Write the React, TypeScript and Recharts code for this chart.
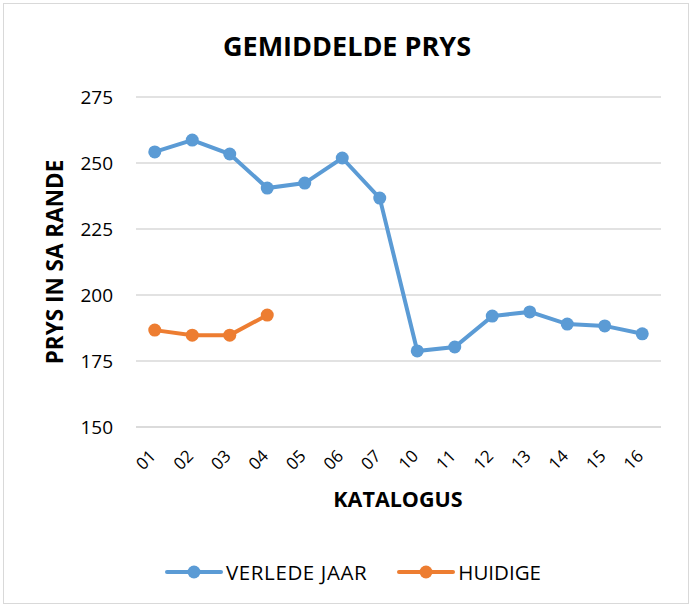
import React from 'react';
import {
  LineChart,
  Line,
  XAxis,
  YAxis,
  CartesianGrid,
  Legend
} from 'recharts';

const catalogues = ['01', '02', '03', '04', '05', '06', '07', '10', '11', '12', '13', '14', '15', '16'];
const lastYear = [254.2, 258.7, 253.4, 240.5, 242.4, 251.9, 236.7, 178.8, 180.3, 192.0, 193.6, 189.0, 188.3, 185.3];
const current = [186.7, 184.8, 184.8, 192.4];
const yTicks = [150, 175, 200, 225, 250, 275];

const BLUE = '#5B9BD5';
const ORANGE = '#ED7D31';
const FONT = '"Open Sans", sans-serif';

const data = catalogues.map((c, i) => ({
  name: c,
  lastYear: lastYear[i],
  current: i < current.length ? current[i] : null
}));

const XTick: React.FC<any> = ({ x, y, payload }) => (
  <g transform={`translate(${x - 2},${y + 18})`}>
    <text
      x={0}
      y={0}
      dy="0.35em"
      textAnchor="end"
      transform="rotate(-45)"
      fontSize={17}
      fill="#000"
      fontFamily={FONT}>
      {payload.value}
    </text>
  </g>
);

const LegendContent: React.FC<any> = () => {
  const items = [
    { label: 'VERLEDE JAAR', color: BLUE },
    { label: 'HUIDIGE', color: ORANGE }
  ];
  return (
    <div
      style={{
        display: 'flex',
        justifyContent: 'center',
        alignItems: 'center',
        height: 30,
        paddingLeft: 45,
        fontFamily: FONT,
        fontSize: 20.5,
        color: '#000'
      }}>
      {items.map((it) => (
        <div key={it.label} style={{ display: 'flex', alignItems: 'center', margin: '0 15px' }}>
          <svg width={58} height={16} style={{ marginRight: 3 }}>
            <line x1={2} y1={8} x2={56} y2={8} stroke={it.color} strokeWidth={4} strokeLinecap="round" />
            <circle cx={29} cy={8} r={6.5} fill={it.color} />
          </svg>
          <span style={{ letterSpacing: it.label === 'VERLEDE JAAR' ? 0.6 : 0 }}>{it.label}</span>
        </div>
      ))}
    </div>
  );
};

export default function App() {
  return (
    <div
      style={{
        position: 'absolute',
        left: 0,
        top: 0,
        width: 694,
        height: 608,
        background: '#fff'
      }}>
      <div
        style={{
          position: 'absolute',
          left: 3,
          top: 3,
          width: 686,
          height: 601,
          border: '1.5px solid #d9d9d9',
          boxSizing: 'border-box'
        }}
      />
      <div
        style={{
          position: 'absolute',
          left: 0,
          top: 27,
          width: 694,
          textAlign: 'center',
          fontFamily: FONT,
          fontWeight: 700,
          fontSize: 27,
          color: '#000'
        }}>
        GEMIDDELDE PRYS
      </div>
      <div style={{ position: 'absolute', left: 0, top: 0 }}>
        <LineChart
          width={694}
          height={608}
          data={data}
          margin={{ top: 97, right: 33, left: 0, bottom: 21 }}>
          <CartesianGrid vertical={false} stroke="#d9d9d9" strokeWidth={1.5} />
          <XAxis
            dataKey="name"
            height={130}
            padding={{ left: 18.75, right: 18.75 }}
            tickLine={false}
            axisLine={{ stroke: '#d9d9d9', strokeWidth: 1.5 }}
            tick={<XTick />}
            interval={0}
            label={{
              content: ({ viewBox }: any) => (
                <text
                  x={398}
                  y={viewBox.y + 71}
                  textAnchor="middle"
                  dominantBaseline="central"
                  fontFamily={FONT}
                  fontWeight={700}
                  fontSize={21.5}
                  fill="#000">
                  KATALOGUS
                </text>
              )
            }}
          />
          <YAxis
            width={136}
            domain={[150, 275]}
            ticks={yTicks}
            interval={0}
            axisLine={false}
            tickLine={false}
            tickMargin={17}
            tick={{ fontSize: 19, fill: '#000', fontFamily: FONT }}
            label={{
              content: ({ viewBox }: any) => (
                <text
                  x={54}
                  y={viewBox.y + viewBox.height / 2}
                  textAnchor="middle"
                  dominantBaseline="central"
                  transform={`rotate(-90, 54, ${viewBox.y + viewBox.height / 2})`}
                  fontFamily={FONT}
                  fontWeight={700}
                  fontSize={22.5}
                  fill="#000">
                  PRYS IN SA RANDE
                </text>
              )
            }}
          />
          <Legend verticalAlign="bottom" content={<LegendContent />} />
          <Line
            type="linear"
            dataKey="lastYear"
            name="VERLEDE JAAR"
            stroke={BLUE}
            strokeWidth={4}
            dot={{ r: 6.5, fill: BLUE, stroke: BLUE, strokeWidth: 0 }}
            activeDot={false}
            isAnimationActive={false}
          />
          <Line
            type="linear"
            dataKey="current"
            name="HUIDIGE"
            stroke={ORANGE}
            strokeWidth={4}
            dot={{ r: 6.5, fill: ORANGE, stroke: ORANGE, strokeWidth: 0 }}
            activeDot={false}
            connectNulls={false}
            isAnimationActive={false}
          />
        </LineChart>
      </div>
    </div>
  );
}
